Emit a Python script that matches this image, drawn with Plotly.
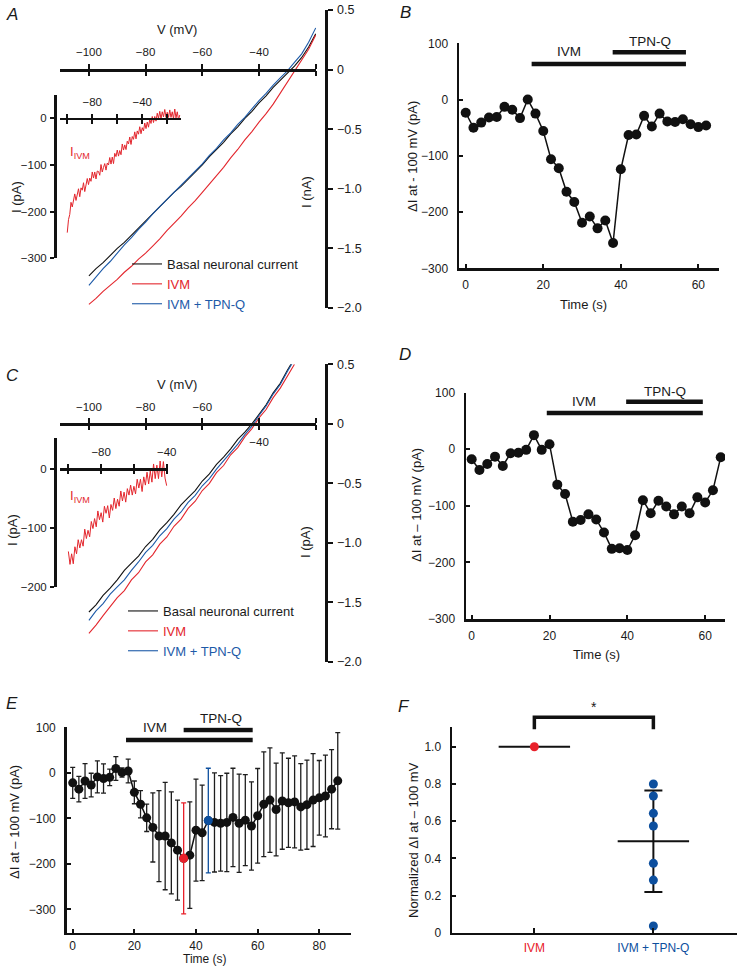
import numpy as np
import plotly.graph_objects as go

# ============================ DATA ============================
# Panel A: I-V ramps of one neuron (nA) vs membrane potential (mV)
A_V = [-100, -97.5, -95, -92.5, -90, -87.5, -85, -82.5, -80, -77.5, -75, -72.5, -70,
       -67.5, -65, -62.5, -60, -57.5, -55, -52.5, -50, -47.5, -45, -42.5, -40, -37.5,
       -35, -32.5, -30, -27.5, -25, -22.5, -20]
A_BASAL = [-1.73, -1.67, -1.62, -1.56, -1.50, -1.45, -1.39, -1.33, -1.27, -1.21, -1.15,
           -1.09, -1.03, -0.98, -0.92, -0.86, -0.80, -0.73, -0.67, -0.61, -0.54, -0.48,
           -0.41, -0.35, -0.28, -0.22, -0.15, -0.09, -0.03, 0.03, 0.10, 0.19, 0.30]
A_IVM = [-1.97, -1.92, -1.86, -1.81, -1.76, -1.70, -1.65, -1.59, -1.54, -1.48, -1.42,
         -1.35, -1.29, -1.23, -1.16, -1.10, -1.03, -0.96, -0.89, -0.82, -0.74, -0.67,
         -0.59, -0.52, -0.44, -0.37, -0.29, -0.20, -0.10, -0.01, 0.08, 0.17, 0.29]
A_IVM_TPNQ = [-1.81, -1.74, -1.67, -1.61, -1.54, -1.47, -1.41, -1.34, -1.28, -1.21, -1.15,
              -1.09, -1.03, -0.97, -0.91, -0.85, -0.79, -0.72, -0.66, -0.59, -0.53, -0.46,
              -0.40, -0.33, -0.26, -0.20, -0.13, -0.07, -0.01, 0.06, 0.13, 0.23, 0.35]

# Panel A inset: IVM-induced current (pA)
A_INSET_V = [-100, -99, -98, -97, -96, -95, -94, -93, -92, -91, -90, -89, -88, -87, -86,
             -85, -84, -83, -82, -81, -80, -79, -78, -77, -76, -75, -74, -73, -72, -71,
             -70, -69, -68, -67, -66, -65, -64, -63, -62, -61, -60, -59, -58, -57, -56,
             -55, -54, -53, -52, -51, -50, -49, -48, -47, -46, -45, -44, -43, -42, -41,
             -40, -39, -38, -37, -36, -35, -34, -33, -32, -31, -30, -29, -28, -27, -26,
             -25, -24, -23, -22, -21, -20, -19, -18, -17, -16, -15, -14, -13, -12, -11, -10]
A_INSET_I = [-245, -217, -206, -180, -190, -172, -162, -176, -164, -151, -168, -149, -154,
             -138, -157, -138, -129, -142, -128, -135, -115, -128, -115, -130, -113, -114,
             -122, -99, -115, -105, -97, -111, -96, -100, -84, -98, -83, -97, -75, -82,
             -68, -81, -69, -78, -55, -68, -57, -67, -49, -55, -40, -56, -39, -45, -29,
             -44, -27, -34, -18, -33, -20, -27, -10, -22, -8, -19, -2, -11, 4, -9, 4, -6,
             11, 0, 15, -1, 14, 3, 19, 2, 13, 2, 18, 2, 14, -1, 20, 1, 14, -3, 7]

# Panel C: second neuron
C_V = [-100, -97.5, -95, -92.5, -90, -87.5, -85, -82.5, -80, -77.5, -75, -72.5, -70,
       -67.5, -65, -62.5, -60, -57.5, -55, -52.5, -50, -47.5, -45, -42.5, -40, -37.5,
       -35, -32.5, -30, -27.5]
C_BASAL = [-1.58, -1.52, -1.44, -1.38, -1.31, -1.23, -1.17, -1.11, -1.03, -0.97, -0.89,
           -0.83, -0.76, -0.68, -0.62, -0.56, -0.48, -0.42, -0.34, -0.28, -0.21, -0.13,
           -0.07, 0.00, 0.08, 0.16, 0.26, 0.34, 0.45, 0.55]
C_IVM = [-1.76, -1.69, -1.61, -1.53, -1.46, -1.40, -1.31, -1.25, -1.16, -1.10, -1.01,
         -0.95, -0.86, -0.80, -0.71, -0.65, -0.56, -0.50, -0.41, -0.35, -0.26, -0.20,
         -0.11, -0.04, 0.05, 0.12, 0.22, 0.30, 0.40, 0.50]
C_IVM_TPNQ = [-1.65, -1.57, -1.51, -1.43, -1.37, -1.31, -1.23, -1.16, -1.08, -1.02, -0.94,
              -0.88, -0.80, -0.74, -0.66, -0.60, -0.52, -0.46, -0.38, -0.31, -0.24, -0.17,
              -0.09, -0.02, 0.07, 0.15, 0.25, 0.33, 0.44, 0.54]
C_INSET_V = [-100, -99, -98, -97, -96, -95, -94, -93, -92, -91, -90, -89, -88, -87, -86,
             -85, -84, -83, -82, -81, -80, -79, -78, -77, -76, -75, -74, -73, -72, -71,
             -70, -69, -68, -67, -66, -65, -64, -63, -62, -61, -60, -59, -58, -57, -56,
             -55, -54, -53, -52, -51, -50, -49, -48, -47, -46, -45, -44, -43, -42, -41, -40]
C_INSET_I = [-140, -162, -144, -161, -132, -144, -120, -134, -120, -131, -102, -118, -104,
             -115, -89, -101, -84, -98, -71, -86, -74, -90, -63, -75, -62, -83, -60, -70,
             -49, -67, -51, -63, -37, -54, -39, -56, -33, -44, -27, -44, -29, -42, -17,
             -32, -17, -38, -13, -27, -5, -25, -3, -22, 9, -16, 7, -16, 14, -13, 13, -15, -28]

# Panels B, D: ΔI at -100 mV vs time
B_T = [0, 2, 4, 6, 8, 10, 12, 14, 16, 18, 20, 22, 24, 26, 28, 30, 32, 34, 36, 38, 40,
       42, 44, 46, 48, 50, 52, 54, 56, 58, 60, 62]
B_DI = [-23.5, -50, -41, -32, -31, -13, -18, -33, 0, -25, -56, -106, -122, -164, -182,
        -219, -208, -229, -215, -255, -124, -63, -62, -29, -48, -25, -39, -40, -35, -44,
        -49, -46]
D_T = [0, 2, 4, 6, 8, 10, 12, 14, 16, 18, 20, 22, 24, 26, 28, 30, 32, 34, 36, 38, 40,
       42, 44, 46, 48, 50, 52, 54, 56, 58, 60, 62, 64]
D_DI = [-17.7, -36.6, -26, -13, -29.5, -7, -6, -1, 25, -1, 9, -62.5, -79, -128, -125,
        -115, -124, -147, -176, -175, -178, -152, -90, -113, -91, -101, -115, -101, -113,
        -85, -94, -72.5, -14]

# Panel E: mean ± SD
E_T = [0, 2, 4, 6, 8, 10, 12, 14, 16, 18, 20, 22, 24, 26, 28, 30, 32, 34, 36, 38, 40,
       42, 44, 46, 48, 50, 52, 54, 56, 58, 60, 62, 64, 66, 68, 70, 72, 74, 76, 78, 80,
       82, 84, 86]
E_DI = [-22, -36, -18, -27, -9, -12.5, -10, 9.5, 0.7, 4, -43, -69, -99, -120, -139, -139,
        -154, -170, -188, -181, -126, -132, -105, -109, -111, -109, -98, -111, -104, -117,
        -94.5, -69, -60, -80.6, -62, -66, -64, -75, -70, -60, -55, -51, -36, -17.6]
E_ERR = [34, 28, 38, 26, 35, 32, 18, 26, 10, 26, 25, 30, 30, 76, 100, 118, 112, 110, 122,
         117, 112, 105, 115, 109, 105, 108, 108, 108, 100, 97, 104, 115, 115, 102, 106, 98,
         101, 95, 98, 102, 82, 90, 87, 106]
E_RED_T = 36
E_BLUE_T = 44

# drug application bars (s)
B_IVM_BAR = [17.0, 56.8]
B_TPNQ_BAR = [37.9, 56.8]
D_IVM_BAR = [19.3, 59.4]
D_TPNQ_BAR = [39.7, 59.4]
E_IVM_BAR = [17.3, 58.4]
E_TPNQ_BAR = [36.0, 58.4]

# Panel F
F_CATEGORIES = ["IVM", "IVM + TPN-Q"]
F_IVM = [1.0]
F_TPNQ = [0.80, 0.735, 0.642, 0.574, 0.373, 0.283, 0.036]

# ticks
V_TICKS = [-100, -80, -60, -40, -20]
I_NA_TICKS = [0.5, 0, -0.5, -1.0, -1.5, -2.0]
T_TICKS_BD = [0, 20, 40, 60]
T_TICKS_E = [0, 20, 40, 60, 80]
DI_TICKS = [100, 0, -100, -200, -300]
F_TICKS = [0, 0.2, 0.4, 0.6, 0.8, 1.0]

# ============================ STYLE ============================
W, H = 753, 966
FONT = "Liberation Sans, Arial, Helvetica, sans-serif"
LINE = "#111111"
TXT = "#1a1a1a"
RED = "#e3262d"
BLUE = "#1d5aa8"
MRED = "#e8202a"
MBLUE = "#0d4f9e"


def PX(x):
    return x / W


def PY(y):
    return 1 - y / H


def lab(v, fmt="{:g}"):
    s = fmt.format(abs(v))
    return ("\u2212" + s) if v < 0 else s


BASE = dict(showline=True, linecolor=LINE, linewidth=2.5, showgrid=False, zeroline=False,
            ticks="outside", tickcolor=LINE, tickwidth=2, ticklen=5, automargin=False,
            tickfont=dict(family=FONT, size=12, color=TXT), fixedrange=True,
            tickmode="array")


def ax(**kw):
    d = dict(BASE)
    d.update(kw)
    return d


fig = go.Figure()

# ---------------- Panel A ----------------
for name, ys, col in [("Basal neuronal current", A_BASAL, LINE),
                      ("<span style='color:%s'>IVM</span>" % RED, A_IVM, RED),
                      ("<span style='color:%s'>IVM + TPN-Q</span>" % BLUE, A_IVM_TPNQ, BLUE)]:
    fig.add_trace(go.Scatter(x=A_V, y=ys, mode="lines", name=name, legend="legend",
                             line=dict(color=col, width=1.1), xaxis="x", yaxis="y",
                             hoverinfo="skip"))
fig.add_trace(go.Scatter(x=A_INSET_V, y=A_INSET_I, mode="lines", showlegend=False,
                         line=dict(color=RED, width=1), xaxis="x3", yaxis="y3",
                         hoverinfo="skip"))
# ---------------- Panel C ----------------
for name, ys, col in [("Basal neuronal current", C_BASAL, LINE),
                      ("<span style='color:%s'>IVM</span>" % RED, C_IVM, RED),
                      ("<span style='color:%s'>IVM + TPN-Q</span>" % BLUE, C_IVM_TPNQ, BLUE)]:
    fig.add_trace(go.Scatter(x=C_V, y=ys, mode="lines", name=name, legend="legend2",
                             line=dict(color=col, width=1.1), xaxis="x5", yaxis="y5",
                             hoverinfo="skip"))
fig.add_trace(go.Scatter(x=C_INSET_V, y=C_INSET_I, mode="lines", showlegend=False,
                         line=dict(color=RED, width=1), xaxis="x7", yaxis="y7",
                         hoverinfo="skip"))
# empty traces registering overlay axes
for xa, ya in [("x2", "y"), ("x4", "y3"), ("x6", "y5"), ("x8", "y7")]:
    fig.add_trace(go.Scatter(x=[], y=[], xaxis=xa, yaxis=ya, showlegend=False,
                             hoverinfo="skip"))


def time_course(t, di, xa, ya, msize):
    fig.add_trace(go.Scatter(x=t, y=di, mode="lines+markers", showlegend=False,
                             line=dict(color=LINE, width=1.5),
                             marker=dict(color=LINE, size=msize),
                             xaxis=xa, yaxis=ya, hoverinfo="skip"))


def drug_bars(ivm, tpnq, lvl_ivm, lvl_tpnq, xa, ya):
    for span, lvl in [(ivm, lvl_ivm), (tpnq, lvl_tpnq)]:
        fig.add_trace(go.Scatter(x=span, y=[lvl, lvl], mode="lines", showlegend=False,
                                 line=dict(color=LINE, width=4.5), xaxis=xa, yaxis=ya,
                                 hoverinfo="skip"))


# B
time_course(B_T, B_DI, "x9", "y9", 10)
drug_bars(B_IVM_BAR, B_TPNQ_BAR, 63, 84, "x9", "y9")
# D
time_course(D_T, D_DI, "x10", "y10", 10)
drug_bars(D_IVM_BAR, D_TPNQ_BAR, 64, 84, "x10", "y10")
# E
ired = E_T.index(E_RED_T)
iblue = E_T.index(E_BLUE_T)
err_black = [None if i in (ired, iblue) else e for i, e in enumerate(E_ERR)]
fig.add_trace(go.Scatter(x=E_T, y=E_DI, mode="lines+markers", showlegend=False,
                         line=dict(color=LINE, width=1.5),
                         marker=dict(color=LINE, size=9),
                         error_y=dict(type="data", array=err_black, visible=True,
                                      color="#1e1e1e", thickness=1.3, width=2.5),
                         xaxis="x11", yaxis="y11", hoverinfo="skip"))
for idx, col in [(ired, MRED), (iblue, MBLUE)]:
    fig.add_trace(go.Scatter(x=[E_T[idx]], y=[E_DI[idx]], mode="markers", showlegend=False,
                             marker=dict(color=col, size=9),
                             error_y=dict(type="data", array=[E_ERR[idx]], visible=True,
                                          color=col, thickness=1.3, width=2.5),
                             xaxis="x11", yaxis="y11", hoverinfo="skip"))
drug_bars(E_IVM_BAR, E_TPNQ_BAR, 72, 94, "x11", "y11")

# F
f_mean_ivm = float(np.mean(F_IVM))
f_mean = float(np.mean(F_TPNQ))
f_sd = float(np.std(F_TPNQ, ddof=1))
for xc, m in [(1, f_mean_ivm), (2, f_mean)]:
    fig.add_trace(go.Scatter(x=[xc - 0.3, xc + 0.3], y=[m, m], mode="lines",
                             showlegend=False, line=dict(color=LINE, width=2),
                             xaxis="x12", yaxis="y12", hoverinfo="skip"))
fig.add_trace(go.Scatter(x=[2], y=[f_mean], mode="markers", showlegend=False,
                         marker=dict(size=1, color="rgba(0,0,0,0)"),
                         error_y=dict(type="data", array=[f_sd], visible=True,
                                      color=LINE, thickness=2, width=9),
                         xaxis="x12", yaxis="y12", hoverinfo="skip"))
fig.add_trace(go.Scatter(x=[1] * len(F_IVM), y=F_IVM, mode="markers", showlegend=False,
                         marker=dict(color=MRED, size=9), xaxis="x12", yaxis="y12",
                         cliponaxis=False, hoverinfo="skip"))
fig.add_trace(go.Scatter(x=[2] * len(F_TPNQ), y=F_TPNQ, mode="markers", showlegend=False,
                         marker=dict(color=MBLUE, size=9), xaxis="x12", yaxis="y12",
                         cliponaxis=False, hoverinfo="skip"))
# significance bracket
fig.add_trace(go.Scatter(x=[1, 1, 2, 2], y=[1.094, 1.159, 1.159, 1.094], mode="lines",
                         showlegend=False, line=dict(color=LINE, width=3.5),
                         xaxis="x13", yaxis="y13", hoverinfo="skip"))

# ============================ LAYOUT ============================
A_XR = [-110.2, -19.9]
lay = dict(
    template="none",
    width=W, height=H, margin=dict(l=0, r=0, t=0, b=0, autoexpand=False),
    paper_bgcolor="white", plot_bgcolor="rgba(0,0,0,0)",
    font=dict(family=FONT, size=12, color=TXT),
    # ----- A main
    xaxis=ax(domain=[PX(60), PX(316)], range=A_XR, anchor="free", position=PY(70),
             side="top", tickvals=V_TICKS, ticktext=[lab(v) for v in V_TICKS[:-1]] + [""],
             tickfont=dict(family=FONT, size=11.5, color=TXT), ticklabelstandoff=3),
    xaxis2=ax(domain=[PX(60), PX(316)], range=A_XR, anchor="free", position=PY(70),
              side="bottom", overlaying="x", showline=False, showticklabels=False,
              tickvals=V_TICKS),
    yaxis=ax(domain=[PY(308), PY(10)], range=[-2.0, 0.5], anchor="free", position=PX(326),
             side="right", tickvals=I_NA_TICKS,
             ticktext=[lab(v, "{:.1f}") if v != 0 else "0" for v in I_NA_TICKS],
             tickfont=dict(family=FONT, size=12.5, color=TXT), ticklabelstandoff=2),
    # ----- A inset
    xaxis3=ax(domain=[PX(60), PX(181)], range=[-105.8, -9.0], anchor="free",
              position=PY(118.5), side="top", tickvals=V_TICKS, ticklen=4,
              ticktext=["", lab(-80), "", lab(-40), ""],
              tickfont=dict(family=FONT, size=11.5, color=TXT), ticklabelstandoff=3),
    xaxis4=ax(domain=[PX(60), PX(181)], range=[-105.8, -9.0], anchor="free",
              position=PY(118.5), side="bottom", overlaying="x3", showline=False,
              showticklabels=False, tickvals=V_TICKS, ticklen=4),
    yaxis3=ax(domain=[PY(258.3), PY(95)], range=[-300, 50], anchor="free", position=PX(55),
              side="left", tickvals=[0, -100, -200, -300], ticklen=4,
              ticktext=[lab(v) for v in [0, -100, -200, -300]],
              tickfont=dict(family=FONT, size=11.5, color=TXT), ticklabelstandoff=1),
    # ----- C main
    xaxis5=ax(domain=[PX(60), PX(316)], range=A_XR, anchor="free", position=PY(424.3),
              side="top", tickvals=V_TICKS, ticktext=[lab(-100), lab(-80), lab(-60), "", ""],
              tickfont=dict(family=FONT, size=11.5, color=TXT), ticklabelstandoff=3),
    xaxis6=ax(domain=[PX(60), PX(316)], range=A_XR, anchor="free", position=PY(424.3),
              side="bottom", overlaying="x5", showline=False, tickvals=V_TICKS,
              ticktext=["", "", "", lab(-40), ""],
              tickfont=dict(family=FONT, size=11.5, color=TXT), ticklabelstandoff=2),
    yaxis5=ax(domain=[PY(662), PY(364.3)], range=[-2.0, 0.5], anchor="free",
              position=PX(326), side="right", tickvals=I_NA_TICKS,
              ticktext=[lab(v, "{:.1f}") if v != 0 else "0" for v in I_NA_TICKS],
              tickfont=dict(family=FONT, size=12.5, color=TXT), ticklabelstandoff=2),
    # ----- C inset
    xaxis7=ax(domain=[PX(60), PX(167.5)], range=[-105.1, -39.5], anchor="free",
              position=PY(469), side="top", tickvals=V_TICKS[:4], ticklen=4,
              ticktext=["", lab(-80), "", lab(-40)],
              tickfont=dict(family=FONT, size=11.5, color=TXT), ticklabelstandoff=3),
    xaxis8=ax(domain=[PX(60), PX(167.5)], range=[-105.1, -39.5], anchor="free",
              position=PY(469), side="bottom", overlaying="x7", showline=False,
              showticklabels=False, tickvals=V_TICKS[:4], ticklen=4),
    yaxis7=ax(domain=[PY(586.7), PY(438.3)], range=[-200, 52.7], anchor="free",
              position=PX(55), side="left", tickvals=[0, -100, -200], ticklen=4,
              ticktext=[lab(v) for v in [0, -100, -200]],
              tickfont=dict(family=FONT, size=11.5, color=TXT), ticklabelstandoff=1),
    # ----- B
    xaxis9=ax(domain=[PX(459), PX(719.3)], range=[-1.73, 65.4], anchor="y9",
              ticks="inside", ticklen=4, tickvals=T_TICKS_BD, ticktext=[lab(v) for v in T_TICKS_BD],
              ticklabelstandoff=4),
    yaxis9=ax(domain=[PY(268.3), PY(43.3)], range=[-300, 100], anchor="x9",
              ticks="inside", ticklen=4, tickvals=DI_TICKS, ticktext=[lab(v) for v in DI_TICKS],
              ticklabelstandoff=6),
    # ----- D
    xaxis10=ax(domain=[PX(466), PX(725)], range=[-1.46, 65.1], anchor="y10",
               ticks="inside", ticklen=4, tickvals=T_TICKS_BD, ticktext=[lab(v) for v in T_TICKS_BD],
               ticklabelstandoff=4),
    yaxis10=ax(domain=[PY(619), PY(392.7)], range=[-300, 100], anchor="x10",
               ticks="inside", ticklen=4, tickvals=DI_TICKS, ticktext=[lab(v) for v in DI_TICKS],
               ticklabelstandoff=6),
    # ----- E
    xaxis11=ax(domain=[PX(66.7), PX(350.7)], range=[-1.95, 90.2], anchor="y11",
               ticks="inside", ticklen=4, tickvals=T_TICKS_E, ticktext=[lab(v) for v in T_TICKS_E],
               ticklabelstandoff=0),
    yaxis11=ax(domain=[PY(932.7), PY(727.3)], range=[-351.4, 100], anchor="x11",
               ticks="inside", ticklen=4, tickvals=DI_TICKS, ticktext=[lab(v) for v in DI_TICKS],
               ticklabelstandoff=6),
    # ----- F
    xaxis12=ax(domain=[PX(452), PX(736.7)], range=[0.308, 2.70], anchor="y12",
               ticks="inside", ticklen=5, tickvals=[1, 2],
               ticktext=["<span style='color:%s'>%s</span>" % (MRED, F_CATEGORIES[0]),
                         "<span style='color:%s'>%s</span>" % (MBLUE, F_CATEGORIES[1])],
               ticklabelstandoff=2),
    yaxis12=ax(domain=[PY(932.7), PY(727.3)], range=[0, 1.1047], anchor="x12",
               ticks="inside", ticklen=4, tickvals=F_TICKS,
               ticktext=["0"] + ["{:.1f}".format(v) for v in F_TICKS[1:]],
               ticklabelstandoff=6),
    xaxis13=dict(domain=[PX(452), PX(736.7)], range=[0.308, 2.70], anchor="y13",
                 visible=False, fixedrange=True),
    yaxis13=dict(domain=[PY(932.7), PY(690)], range=[0, 1.305], anchor="x13",
                 visible=False, fixedrange=True),
    legend=dict(x=PX(127), y=PY(249), xanchor="left", yanchor="top",
                bgcolor="rgba(0,0,0,0)", borderwidth=0, itemwidth=30, tracegroupgap=0,
                font=dict(family=FONT, size=13, color=TXT)),
    legend2=dict(x=PX(123), y=PY(596), xanchor="left", yanchor="top",
                 bgcolor="rgba(0,0,0,0)", borderwidth=0, itemwidth=30, tracegroupgap=0,
                 font=dict(family=FONT, size=13, color=TXT)),
)
fig.update_layout(**lay)

ann = []


def note(text, x, y, size=13, color=TXT, angle=0, italic=False, xref="paper", yref="paper",
         yshift=0):
    if xref == "paper":
        x, y = PX(x), PY(y)
    ann.append(dict(text=("<i>%s</i>" % text) if italic else text, x=x, y=y,
                    xref=xref, yref=yref, xanchor="center", yanchor="middle",
                    showarrow=False, textangle=angle, yshift=yshift,
                    font=dict(family=FONT, size=size, color=color)))


# panel letters
for letter, x, y in [("A", 12, 15), ("B", 405, 12), ("C", 12, 376), ("D", 405, 354),
                     ("E", 12, 703), ("F", 404, 706)]:
    note(letter, x, y, size=17, italic=True)
# A
note("V (mV)", 177, 30)
note("I (nA)", 307, 192, angle=-90)
note("I (pA)", 16, 197, angle=-90)
note("I<sub>IVM</sub>", 80, 152, color=RED)
# C
note("V (mV)", 177, 384)
note("I (pA)", 305, 542, angle=-90)
note("I (pA)", 12, 530, angle=-90)
note("I<sub>IVM</sub>", 80, 497, color=RED)
# B
note("\u0394I at - 100 mV (pA)", 413, 156, angle=-90)
note("Time (s)", 583, 304)
note("IVM", 26.7, 85, size=13.5, xref="x9", yref="y9")
note("TPN-Q", 47.4, 98, size=13.5, xref="x9", yref="y9", yshift=3)
# D
note("\u0394I at \u2013 100 mV (pA)", 416, 505, angle=-90)
note("Time (s)", 596, 654)
note("IVM", 28.9, 84, size=13.5, xref="x10", yref="y10")
note("TPN-Q", 49.7, 98, size=13.5, xref="x10", yref="y10", yshift=2)
# E
note("\u0394I at \u2013 100 mV (pA)", 14, 822, angle=-90)
note("Time (s)", 205, 959, size=12)
note("IVM", 26.8, 98, size=13.5, xref="x11", yref="y11", yshift=1)
note("TPN-Q", 48, 98, size=13.5, xref="x11", yref="y11", yshift=10)
# F
note("Normalized \u0394I at \u2013 100 mV", 413, 840, angle=-90)
note("*", 1.5, 1.215, size=14, xref="x13", yref="y13")

fig.update_layout(annotations=ann)
fig.write_html("out.html", config={"displayModeBar": False, "staticPlot": True},
               post_script="document.body.style.margin='0px';"
                           "document.documentElement.style.overflow='hidden';")
